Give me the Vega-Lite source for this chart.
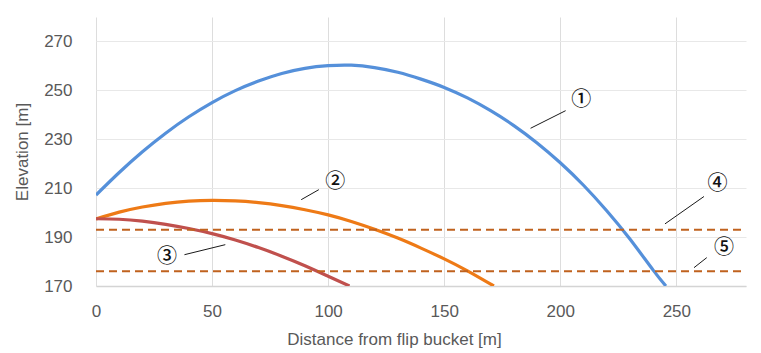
{
  "$schema": "https://vega.github.io/schema/vega-lite/v6.json",
  "width": 650,
  "height": 269,
  "autosize": {"type": "none"},
  "padding": {"left": 96, "top": 17, "right": 15, "bottom": 67},
  "background": "white",
  "config": {"view": {"stroke": null}, "font": "Liberation Sans"},
  "datasets": {
    "curves": [
      {"series": "1", "x": 0, "y": 207.2}, {"series": "1", "x": 10, "y": 216.4}, {"series": "1", "x": 20, "y": 224.9},
      {"series": "1", "x": 30, "y": 232.5}, {"series": "1", "x": 40, "y": 239.2}, {"series": "1", "x": 50, "y": 245.0},
      {"series": "1", "x": 60, "y": 249.9}, {"series": "1", "x": 70, "y": 253.8}, {"series": "1", "x": 80, "y": 256.9},
      {"series": "1", "x": 90, "y": 259.0}, {"series": "1", "x": 100, "y": 260.1}, {"series": "1", "x": 110, "y": 260.3},
      {"series": "1", "x": 120, "y": 259.3}, {"series": "1", "x": 130, "y": 257.4}, {"series": "1", "x": 140, "y": 254.6},
      {"series": "1", "x": 150, "y": 251.2}, {"series": "1", "x": 160, "y": 246.9}, {"series": "1", "x": 170, "y": 241.7},
      {"series": "1", "x": 180, "y": 235.6}, {"series": "1", "x": 190, "y": 228.5}, {"series": "1", "x": 200, "y": 220.4},
      {"series": "1", "x": 210, "y": 211.2}, {"series": "1", "x": 220, "y": 200.8}, {"series": "1", "x": 230, "y": 189.2},
      {"series": "1", "x": 240, "y": 176.5}, {"series": "1", "x": 245.5, "y": 170},
      {"series": "2", "x": 0, "y": 197.4}, {"series": "2", "x": 10, "y": 200.2}, {"series": "2", "x": 20, "y": 202.3},
      {"series": "2", "x": 30, "y": 203.8}, {"series": "2", "x": 40, "y": 204.7}, {"series": "2", "x": 50, "y": 205.0},
      {"series": "2", "x": 60, "y": 204.8}, {"series": "2", "x": 70, "y": 204.1}, {"series": "2", "x": 80, "y": 202.9},
      {"series": "2", "x": 90, "y": 201.2}, {"series": "2", "x": 100, "y": 199.1}, {"series": "2", "x": 110, "y": 196.4},
      {"series": "2", "x": 120, "y": 193.2}, {"series": "2", "x": 130, "y": 189.6}, {"series": "2", "x": 140, "y": 185.5},
      {"series": "2", "x": 150, "y": 181.1}, {"series": "2", "x": 160, "y": 176.2}, {"series": "2", "x": 171.4, "y": 170},
      {"series": "3", "x": 0, "y": 197.5}, {"series": "3", "x": 10, "y": 197.3}, {"series": "3", "x": 20, "y": 196.5},
      {"series": "3", "x": 30, "y": 195.2}, {"series": "3", "x": 40, "y": 193.5}, {"series": "3", "x": 50, "y": 191.4},
      {"series": "3", "x": 60, "y": 188.8}, {"series": "3", "x": 70, "y": 185.7}, {"series": "3", "x": 80, "y": 182.2},
      {"series": "3", "x": 90, "y": 178.3}, {"series": "3", "x": 100, "y": 174.0}, {"series": "3", "x": 109.2, "y": 170}
    ],
    "levels": [
      {"level": 193, "from": 0, "to": 280},
      {"level": 176, "from": 0, "to": 280}
    ],
    "leaders": [
      {"label": "①", "lx": 209.0, "ly": 245.9, "x1": 202.3, "y1": 241.7, "x2": 187.2, "y2": 234.5},
      {"label": "②", "lx": 103.1, "ly": 212.5, "x1": 96.0, "y1": 209.4, "x2": 88.4, "y2": 205.3},
      {"label": "③", "lx": 30.6, "ly": 181.9, "x1": 38.1, "y1": 182.8, "x2": 55.7, "y2": 186.9},
      {"label": "④", "lx": 267.7, "ly": 211.9, "x1": 261.9, "y1": 206.6, "x2": 245.1, "y2": 195.4},
      {"label": "⑤", "lx": 270.5, "ly": 185.5, "x1": 263.1, "y1": 181.6, "x2": 257.6, "y2": 177.5}
    ]
  },
  "layer": [
    {
      "data": {"name": "curves"},
      "mark": {"type": "line", "strokeWidth": 3.2, "interpolate": "natural", "clip": true},
      "encoding": {
        "x": {
          "field": "x", "type": "quantitative",
          "scale": {"domain": [0, 280], "nice": false},
          "axis": {
            "values": [0, 50, 100, 150, 200, 250],
            "title": "Distance from flip bucket [m]",
            "grid": true, "gridColor": "#DDDDDD", "gridWidth": 1,
            "domain": true, "domainColor": "#D4D4D4", "domainWidth": 1.5,
            "ticks": false, "labelFlush": false, "labelDx": -2,
            "labelFontSize": 17, "labelColor": "#595959", "labelPadding": 17, "labelFont": "Liberation Sans",
            "titleFontSize": 17, "titleColor": "#595959", "titleFontWeight": "normal", "titleFont": "Liberation Sans",
            "titleX": 298, "titleY": 58, "titleBaseline": "alphabetic"
          }
        },
        "y": {
          "field": "y", "type": "quantitative",
          "scale": {"domain": [170, 280], "nice": false, "zero": false},
          "axis": {
            "values": [170, 190, 210, 230, 250, 270],
            "title": "Elevation [m]",
            "grid": true, "gridColor": "#E8E8E8", "gridWidth": 1,
            "domain": false, "ticks": false,
            "labelFontSize": 17, "labelColor": "#595959", "labelPadding": 24, "labelFont": "Liberation Sans",
            "titleFontSize": 17, "titleColor": "#595959", "titleFontWeight": "normal", "titleFont": "Liberation Sans",
            "titlePadding": 12
          }
        },
        "color": {
          "field": "series", "type": "nominal",
          "scale": {"domain": ["1", "2", "3"], "range": ["#5590DA", "#EE7A16", "#C0504D"]},
          "legend": null
        }
      }
    },
    {
      "data": {"name": "levels"},
      "mark": {"type": "rule", "color": "#C0621E", "strokeWidth": 2, "strokeDash": [8, 5]},
      "encoding": {
        "y": {"field": "level", "type": "quantitative"},
        "x": {"field": "from", "type": "quantitative"},
        "x2": {"field": "to"}
      }
    },
    {
      "data": {"name": "leaders"},
      "mark": {"type": "rule", "color": "#1A1A1A", "strokeWidth": 1},
      "encoding": {
        "x": {"field": "x1", "type": "quantitative"},
        "y": {"field": "y1", "type": "quantitative"},
        "x2": {"field": "x2"},
        "y2": {"field": "y2"}
      }
    },
    {
      "data": {"name": "leaders"},
      "mark": {"type": "text", "font": "Noto Sans CJK JP", "fontSize": 20, "fontWeight": 500, "align": "center", "baseline": "middle", "color": "#111111"},
      "encoding": {
        "x": {"field": "lx", "type": "quantitative"},
        "y": {"field": "ly", "type": "quantitative"},
        "text": {"field": "label"}
      }
    }
  ]
}
